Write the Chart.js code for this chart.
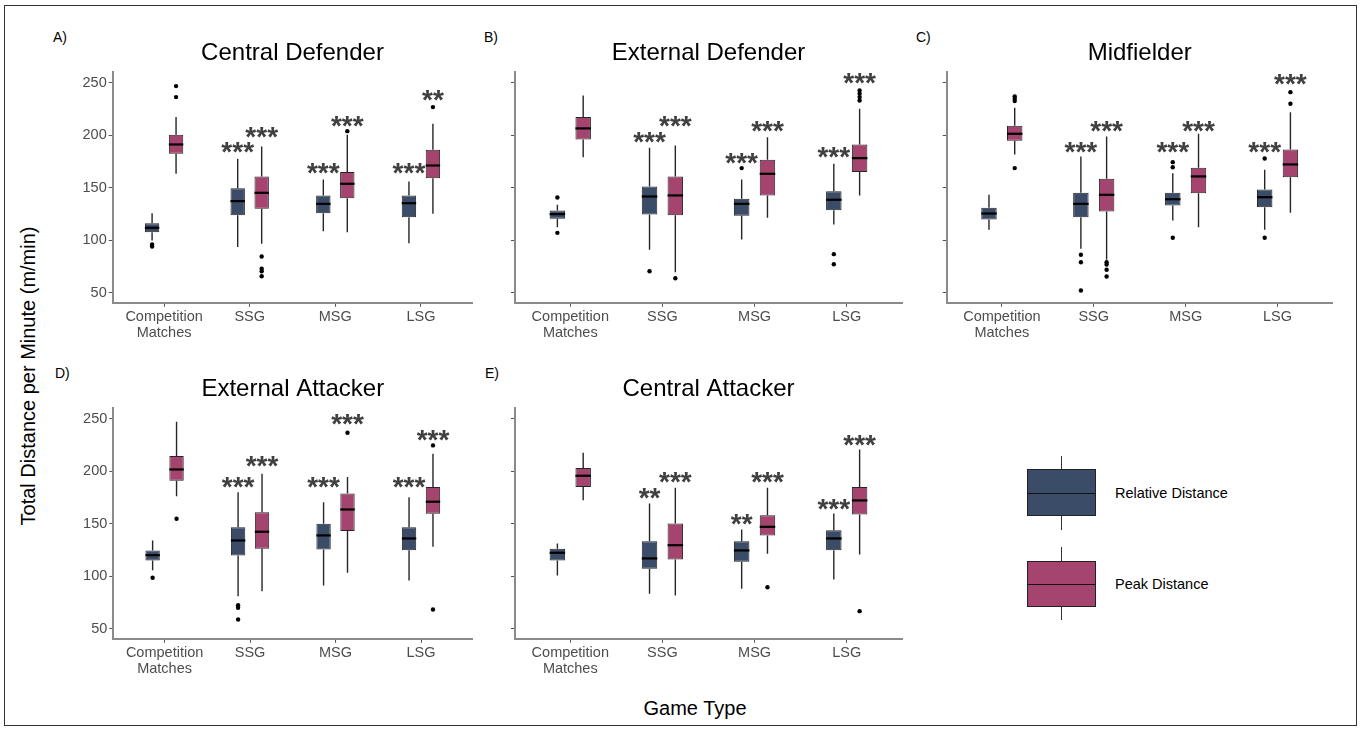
<!DOCTYPE html>
<html>
<head>
<meta charset="utf-8">
<title>Total Distance per Minute by Game Type</title>
<script src="https://cdn.jsdelivr.net/npm/chart.js"></script>
<style>
  body { margin: 0; background: #fff; font-family: 'Liberation Sans', Arial, sans-serif; }
  #page { position: relative; width: 1361px; height: 731px; overflow: hidden; background: #fff; }
  #frame { position: absolute; left: 4px; top: 5px; width: 1351px; height: 719px; border: 1px solid #333; }
  canvas { position: absolute; }
  .tag { position: absolute; font-size: 14px; line-height: 14px; color: #000; }
  .axis-title { position: absolute; font-size: 20px; line-height: 20px; color: #000; white-space: nowrap; }
  .lg-box { position: absolute; left: 1027px; width: 67px; border: 1px solid #222; }
  .lg-median { position: absolute; left: 0; right: 0; top: 50%; height: 1px; background: #111; }
  .lg-whisker { position: absolute; left: 1061px; width: 1px; background: #333; }
  .lg-text { position: absolute; left: 1115px; font-size: 14.5px; line-height: 14.5px; color: #000; white-space: nowrap; }
</style>
</head>
<body>
<div id="page">
  <div id="frame"></div>

  <div class="tag" style="left:53px; top:30px">A)</div>
  <div class="tag" style="left:484px; top:30px">B)</div>
  <div class="tag" style="left:916px; top:30px">C)</div>
  <div class="tag" style="left:55px; top:366px">D)</div>
  <div class="tag" style="left:485px; top:366px">E)</div>

  <div class="axis-title" style="left:28px; top:376px; transform: translate(-50%, -50%) rotate(-90deg)">Total Distance per Minute (m/min)</div>
  <div class="axis-title" style="left:695px; top:698px; transform: translateX(-50%)">Game Type</div>

  <div class="lg-whisker" style="top:456px; height:74px"></div>
  <div class="lg-box" style="top:469px; height:45px; background:#3b4c68"><div class="lg-median"></div></div>
  <div class="lg-text" style="top:486px">Relative Distance</div>

  <div class="lg-whisker" style="top:547px; height:73px"></div>
  <div class="lg-box" style="top:561px; height:44px; background:#a5446f"><div class="lg-median"></div></div>
  <div class="lg-text" style="top:577px">Peak Distance</div>
</div>

<script>
const categories = [['Competition', 'Matches'], 'SSG', 'MSG', 'LSG'];
const yTicks = [50, 100, 150, 200, 250];
const seriesNames = ['Relative Distance', 'Peak Distance'];
const seriesColors = ['#3b4c68', '#a5446f'];

// each row: [lower whisker, Q1, median, Q3, upper whisker]
const cdRelative = [[99.8, 107.7, 111.9, 116.3, 125.8], [93.5, 123.9, 137.3, 149.6, 177.6], [108.7, 125.8, 134.7, 142.7, 157.9], [97.2, 122, 135.3, 142.7, 156]];
const cdPeak = [[163.3, 182.4, 191.2, 200.5, 217.3], [96.7, 130, 145.2, 160.8, 189.3], [107.6, 140.1, 153.8, 164.9, 200.5], [125.2, 159.1, 171.2, 186.2, 211]];
const cdRelativeOut = [[96, 94], [], [], []];
const cdPeakOut = [[246.8, 236.3], [84.6, 72.9, 70.6, 65.8], [203.9], [226.8]];
const cdRelativeStars = ['', '***', '***', '***'];
const cdRelativeStarY = [null, 190.3, 170.3, 170.3];
const cdPeakStars = ['', '***', '***', '**'];
const cdPeakStarY = [null, 205.2, 215, 240.5];

const edRelative = [[112.5, 120.5, 124.9, 128.4, 133.8], [91, 124.6, 141.7, 151.2, 188.1], [100.8, 123.3, 134.7, 139.5, 157.9], [115, 128.7, 138.6, 146.8, 172.9]];
const edPeak = [[179.1, 196, 206.5, 217.3, 237.9], [69.6, 123.9, 142.7, 160.8, 190.3], [121.4, 142.7, 163.3, 176.7, 198.2], [142.7, 164.9, 178.2, 191.2, 225.2]];
const edRelativeOut = [[140.8, 107.1], [70.6], [168.7], [86.8, 77.2]];
const edPeakOut = [[], [63.9], [], [242.7, 239.5, 236.3, 233.1]];
const edRelativeStars = ['', '***', '***', '***'];
const edRelativeStarY = [null, 200.5, 180.1, 185.5];
const edPeakStars = ['', '***', '***', '***'];
const edPeakStarY = [null, 215.3, 211, 256];

const mfRelative = [[110, 119.8, 125.5, 131, 143.3], [91.9, 122, 134.7, 145.2, 179.8], [118.9, 133.1, 139.1, 145.2, 163.9], [110, 131.5, 141, 148.4, 167.1]];
const mfPeak = [[181.7, 194.8, 201.4, 209, 226.2], [81.5, 127.4, 143.3, 158.6, 198.9], [112.5, 144.9, 160.8, 169, 201.4], [126.2, 160.1, 172.2, 186.5, 222]];
const mfRelativeOut = [[], [86.2, 79.1, 52.2], [174.4, 169.6, 102.4], [177.9, 102.4]];
const mfPeakOut = [[237, 234.8, 232.5, 168.7], [79.1, 77, 71.9, 65.5], [], [241, 230]];
const mfRelativeStars = ['', '***', '***', '***'];
const mfRelativeStarY = [null, 190.3, 190.3, 190.3];
const mfPeakStars = ['', '***', '***', '***'];
const mfPeakStarY = [null, 210.3, 210.3, 255.3];

const eaRelative = [[105.8, 115, 120.1, 124.6, 134.1], [81, 119.8, 134.1, 146.8, 180.1], [91.2, 125.5, 138.9, 150, 170.6], [96, 124.9, 136, 146.8, 175.3]];
const eaPeak = [[176.3, 191, 201.7, 214.4, 247.1], [85.8, 126.2, 142.4, 161, 197.6], [103.3, 143, 163.6, 178.9, 194.4], [128.1, 159.5, 171, 184.9, 216.7]];
const eaRelativeOut = [[98.6], [72.5, 70, 58.9], [], []];
const eaPeakOut = [[154.8], [], [236.7], [224.6, 68.4]];
const eaRelativeStars = ['', '***', '***', '***'];
const eaRelativeStarY = [null, 191.5, 191.5, 191.5];
const eaPeakStars = ['', '***', '***', '***'];
const eaPeakStarY = [null, 211.2, 251.9, 236.7];

const caRelative = [[100.8, 115, 122.4, 126.2, 131.2], [83.3, 107.1, 117, 133.4, 169.3], [88.1, 113.8, 124.6, 133.4, 144.6], [97, 124.9, 136, 143.9, 159.8]];
const caPeak = [[172.5, 184.9, 195.7, 203, 217.6], [81.7, 116, 129.6, 150.3, 184.3], [121.4, 138.9, 147.1, 158.2, 184.3], [120.8, 158.9, 172.2, 184.9, 220.8]];
const caRelativeOut = [[], [], [], []];
const caPeakOut = [[], [], [89.6], [66.8]];
const caRelativeStars = ['', '**', '**', '***'];
const caRelativeStarY = [null, 181, 156.3, 170.6];
const caPeakStars = ['', '***', '***', '***'];
const caPeakStarY = [null, 196.3, 196.3, 231.2];

const fontFamily = "'Liberation Sans', Arial, sans-serif";

const panels = [
  { title: 'Central Defender', stats: [cdRelative, cdPeak], out: [cdRelativeOut, cdPeakOut], stars: [cdRelativeStars, cdPeakStars], starY: [cdRelativeStarY, cdPeakStarY], left: 40, width: 440, areaLeft: 112.7, areaRight: 472.3, areaTop: 71.7, showLabels: true },
  { title: 'External Defender', stats: [edRelative, edPeak], out: [edRelativeOut, edPeakOut], stars: [edRelativeStars, edPeakStars], starY: [edRelativeStarY, edPeakStarY], left: 480, width: 430, areaLeft: 515, areaRight: 902, areaTop: 71.7, showLabels: false },
  { title: 'Midfielder', stats: [mfRelative, mfPeak], out: [mfRelativeOut, mfPeakOut], stars: [mfRelativeStars, mfPeakStars], starY: [mfRelativeStarY, mfPeakStarY], left: 915, width: 430, areaLeft: 946.7, areaRight: 1332.7, areaTop: 71.7, showLabels: false },
  { title: 'External Attacker', stats: [eaRelative, eaPeak], out: [eaRelativeOut, eaPeakOut], stars: [eaRelativeStars, eaPeakStars], starY: [eaRelativeStarY, eaPeakStarY], left: 40, width: 440, areaLeft: 113.3, areaRight: 472.3, areaTop: 408.3, showLabels: true },
  { title: 'Central Attacker', stats: [caRelative, caPeak], out: [caRelativeOut, caPeakOut], stars: [caRelativeStars, caPeakStars], starY: [caRelativeStarY, caPeakStarY], left: 480, width: 430, areaLeft: 515, areaRight: 902, areaTop: 408.3, showLabels: false }
];

// whiskers, medians, outliers and significance stars on top of the floating bars
const boxPlot = {
  id: 'boxPlot',
  afterDatasetsDraw(chart) {
    const ctx = chart.ctx;
    const y = chart.scales.y;
    chart.data.datasets.forEach((ds, d) => {
      chart.getDatasetMeta(d).data.forEach((bar, i) => {
        const [lo, q1, med, q3, hi] = ds.stats[i];
        const half = bar.width / 2;
        ctx.save();
        ctx.strokeStyle = '#262626';
        ctx.lineWidth = 1.4;
        ctx.beginPath();
        ctx.moveTo(bar.x, y.getPixelForValue(q3));
        ctx.lineTo(bar.x, y.getPixelForValue(hi));
        ctx.moveTo(bar.x, y.getPixelForValue(q1));
        ctx.lineTo(bar.x, y.getPixelForValue(lo));
        ctx.stroke();

        const ym = y.getPixelForValue(med);
        ctx.strokeStyle = '#000';
        ctx.lineWidth = 2.2;
        ctx.beginPath();
        ctx.moveTo(bar.x - half, ym);
        ctx.lineTo(bar.x + half, ym);
        ctx.stroke();

        ctx.fillStyle = '#000';
        ds.outliers[i].forEach(v => {
          ctx.beginPath();
          ctx.arc(bar.x, y.getPixelForValue(v), 2.2, 0, Math.PI * 2);
          ctx.fill();
        });

        if (ds.stars[i]) {
          ctx.font = 'bold 28px ' + fontFamily;
          ctx.fillStyle = '#404040';
          ctx.textAlign = 'center';
          ctx.textBaseline = 'alphabetic';
          ctx.fillText(ds.stars[i], bar.x, y.getPixelForValue(ds.starY[i]) + 16);
        }
        ctx.restore();
      });
    });
  }
};

const page = document.getElementById('page');

panels.forEach(p => {
  const canvas = document.createElement('canvas');
  canvas.width = p.width;
  canvas.height = 330;
  canvas.style.left = p.left + 'px';
  canvas.style.top = (p.areaTop - 52) + 'px';
  page.appendChild(canvas);

  const datasets = [0, 1].map(s => ({
    label: seriesNames[s],
    data: p.stats[s].map((b, i) => ({ x: i + 1, y: [b[1], b[3]] })),
    stats: p.stats[s],
    outliers: p.out[s],
    stars: p.stars[s],
    starY: p.starY[s],
    backgroundColor: seriesColors[s],
    borderColor: '#262626',
    borderWidth: 1,
    borderSkipped: false,
    categoryPercentage: 0.56,
    barPercentage: 0.6
  }));

  new Chart(canvas, {
    type: 'bar',
    data: { datasets: datasets },
    plugins: [boxPlot],
    options: {
      responsive: false,
      animation: false,
      devicePixelRatio: 1,
      layout: { padding: { left: 0, top: 0, bottom: 0, right: p.left + p.width - p.areaRight } },
      plugins: {
        legend: { display: false },
        tooltip: { enabled: false },
        title: {
          display: true,
          text: p.title,
          fullSize: false,
          color: '#000',
          font: { family: fontFamily, size: 24, weight: 'normal', lineHeight: 1.2 },
          padding: { top: 19, bottom: 4.2 }
        }
      },
      scales: {
        x: {
          type: 'linear',
          offset: false,
          min: 0.4,
          max: 4.6,
          afterBuildTicks: s => { s.ticks = [1, 2, 3, 4].map(v => ({ value: v })); },
          afterFit: s => { s.height = 47.2; },
          ticks: {
            callback: v => categories[v - 1],
            color: '#4d4d4d',
            font: { family: fontFamily, size: 14.5, lineHeight: 1.05 },
            padding: 3,
            autoSkip: false,
            maxRotation: 0
          },
          grid: { display: true, offset: false, drawOnChartArea: false, tickLength: 4, tickColor: '#555' },
          border: { display: true, color: '#8a8a8a', width: 2 }
        },
        y: {
          type: 'linear',
          min: 40.5,
          max: 260.2,
          afterBuildTicks: s => { s.ticks = yTicks.map(v => ({ value: v })); },
          afterFit: s => { s.width = p.areaLeft - p.left; },
          ticks: {
            display: p.showLabels,
            color: '#4d4d4d',
            font: { family: fontFamily, size: 14.5 },
            padding: 2
          },
          grid: { display: true, drawOnChartArea: false, tickLength: 4, tickColor: '#555' },
          border: { display: true, color: '#8a8a8a', width: 2 }
        }
      }
    }
  });
});
</script>
</body>
</html>
